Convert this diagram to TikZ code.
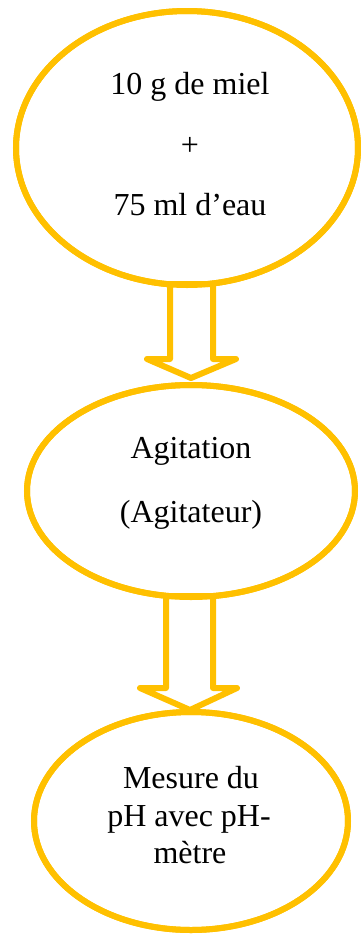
\documentclass[tikz,border=0pt]{standalone}
\usepackage{fontspec}
\setmainfont{Liberation Serif}
\usetikzlibrary{shapes.geometric}
\definecolor{gold}{HTML}{FFC000}
\tikzset{
  oval/.style={draw=gold, line width=6pt, ellipse, inner sep=0pt},
  txt/.style={anchor=base, inner sep=0pt, font=\fontsize{32}{36}\selectfont, text=black},
  blockarrow/.style={draw=gold, line width=6pt, line join=round, fill=white},
}
\begin{document}
\begin{tikzpicture}[x=1pt, y=-1pt]
\useasboundingbox (0,0) rectangle (360,935);
% ellipses
\node[oval, minimum width=342pt, minimum height=274pt] (e1) at (187,148) {};
\node[oval, minimum width=328pt, minimum height=212pt] (e2) at (191,491) {};
\node[oval, minimum width=314pt, minimum height=218pt] (e3) at (191,821) {};
% block arrow 1
\coordinate (a1t) at (191,378);
\draw[blockarrow] (170,284) -- (213,284) -- (213,359) -- (236,359) -- (a1t)
  -- (147,359) -- (170,359) -- cycle;
% block arrow 2
\coordinate (a2t) at (190,710);
\draw[blockarrow] (166,596) -- (213,596) -- (213,688) -- (237,688) -- (a2t)
  -- (140,688) -- (166,688) -- cycle;
% redraw ellipse outlines over arrow ends
\draw[draw=gold, line width=6pt] (e1.center) ellipse [x radius=171pt, y radius=137pt];
\draw[draw=gold, line width=6pt] (e2.center) ellipse [x radius=164pt, y radius=106pt];
\draw[draw=gold, line width=6pt] (e3.center) ellipse [x radius=157pt, y radius=109pt];
% texts
\node[txt] (t1) at (190,94) {10 g de miel};
\node[txt] (t2) at (190,155) {+};
\node[txt] (t3) at (190,215) {75 ml d’eau};
\node[txt] (t4) at (191,458) {Agitation};
\node[txt] (t5) at (191,522) {(Agitateur)};
\node[txt] (t6) at (191,788) {Mesure du};
\node[txt] (t7) at (189,826) {pH avec pH-};
\node[txt] (t8) at (190,863) {mètre};
\end{tikzpicture}
\end{document}
